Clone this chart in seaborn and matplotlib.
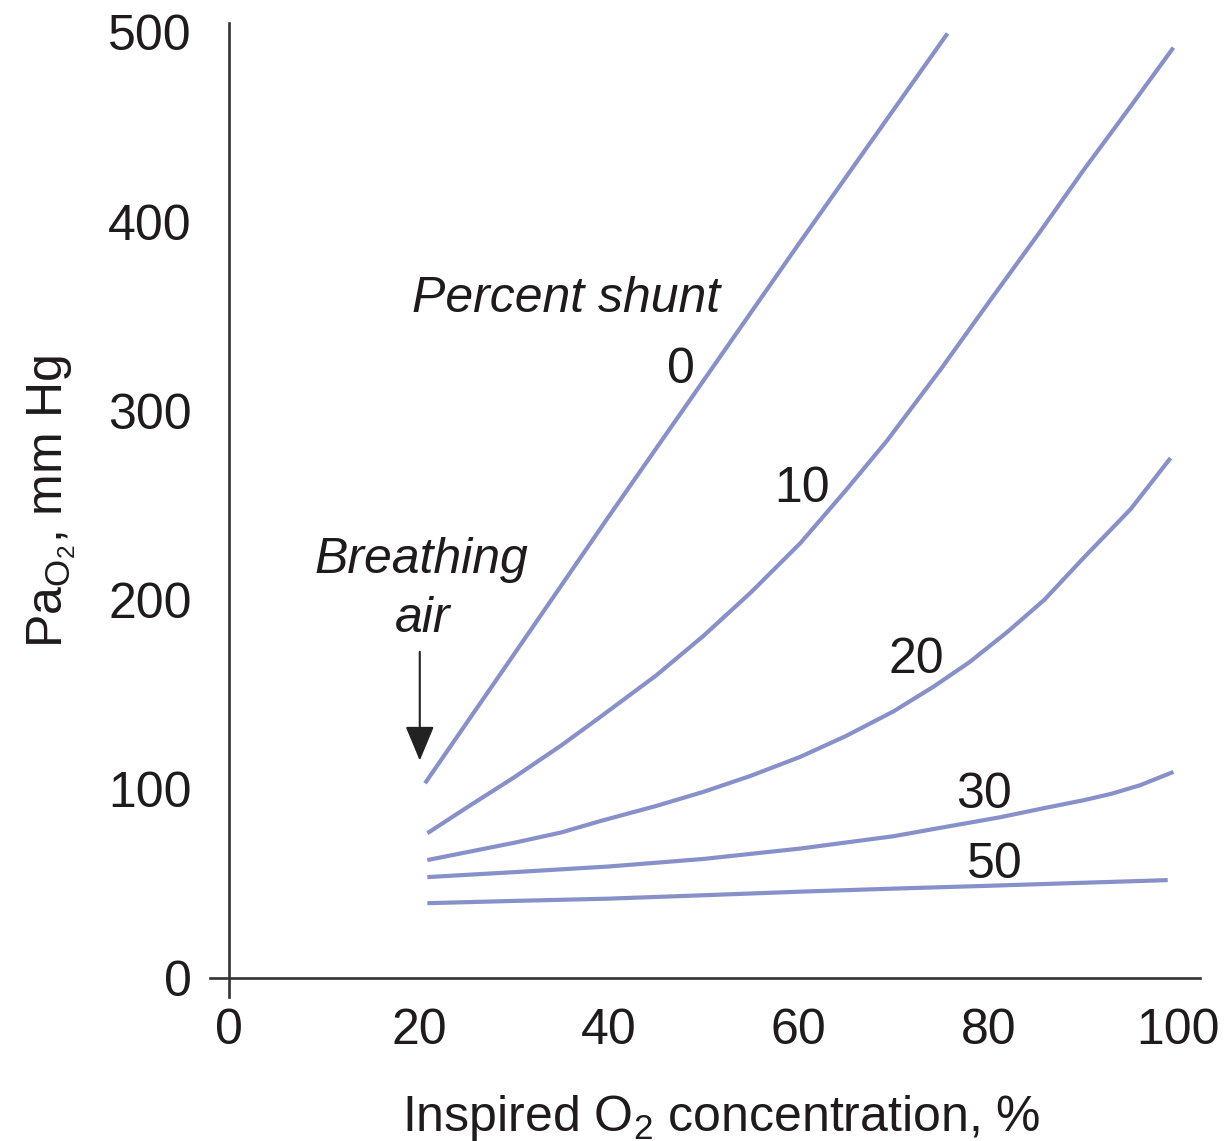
import numpy as np
import pandas as pd
import matplotlib
matplotlib.use("Agg")
import matplotlib.pyplot as plt
import seaborn as sns

# ---- data ----
shunt0_x = [20.65, 30, 40, 50, 60, 70, 75.7]
shunt0_y = [103, 171, 244, 316, 388, 459, 499.5]

shunt10_x = [20.9, 25, 30, 35, 39.1, 45, 50, 55, 60.2, 65, 69.3, 75, 80, 85.5, 90, 95, 99.5]
shunt10_y = [76.6, 90, 106, 123, 138, 160, 181, 204, 230, 258, 284, 322, 357, 395, 427, 461, 492]

shunt20_x = [20.9, 25, 30, 35, 39.1, 45, 50, 55, 60.2, 65, 70, 74.2, 78, 82, 85.9, 90, 95, 99.2]
shunt20_y = [62.4, 66.5, 71.5, 77, 83, 91, 98.5, 107, 117, 128, 141, 154, 167, 183, 200, 222, 248, 275]

shunt30_x = [20.9, 30, 40, 50, 60.2, 70, 75, 81.2, 86, 90, 93, 96, 99.5]
shunt30_y = [53.4, 56, 59, 63, 68.5, 75, 79.5, 85, 90, 94, 97.5, 102, 109]

shunt50_x = [20.9, 30, 40, 50, 60.2, 70, 80, 90, 98.9]
shunt50_y = [39.6, 40.8, 42, 43.8, 45.7, 47.3, 48.8, 50.4, 51.8]

shunt_labels = ["0", "10", "20", "30", "50"]
label_x = [47.6, 60.4, 72.4, 79.5, 80.7]
label_y = [314.5, 251.6, 161.2, 89.9, 52.9]

x_ticks = [0, 20, 40, 60, 80, 100]
y_ticks = [0, 100, 200, 300, 400, 500]

# ---- build long-form table ----
frames = []
for name, xs, ys in zip(shunt_labels,
                        [shunt0_x, shunt10_x, shunt20_x, shunt30_x, shunt50_x],
                        [shunt0_y, shunt10_y, shunt20_y, shunt30_y, shunt50_y]):
    frames.append(pd.DataFrame({"fio2": xs, "pao2": ys, "shunt": name}))
df = pd.concat(frames, ignore_index=True)

sns.set_style("white")
plt.rcParams["font.family"] = ["Liberation Sans", "DejaVu Sans"]
plt.rcParams["mathtext.fontset"] = "custom"
plt.rcParams["mathtext.rm"] = "Liberation Sans"
plt.rcParams["mathtext.it"] = "Liberation Sans:italic"
plt.rcParams["mathtext.default"] = "regular"

TXT = "#1f1b1c"
LINE = "#8790c8"
FS = 36

fig = plt.figure(figsize=(12.25, 11.41), dpi=100)
ax = fig.add_axes([210 / 1225, (1141 - 997) / 1141, 990 / 1225, 974 / 1141])

sns.lineplot(data=df, x="fio2", y="pao2", hue="shunt",
             palette={k: LINE for k in shunt_labels},
             estimator=None, sort=True, legend=False, linewidth=3.0, ax=ax)
for ln in ax.lines:
    ln.set_solid_joinstyle("round")
    ln.set_solid_capstyle("butt")

ax.set_xlim(-2.0, 102.3)
ax.set_ylim(-10, 505)

for side in ["top", "right"]:
    ax.spines[side].set_visible(False)
ax.spines["left"].set_position(("data", 0))
ax.spines["bottom"].set_position(("data", 0))
for side in ["left", "bottom"]:
    ax.spines[side].set_color("#333333")
    ax.spines[side].set_linewidth(1.9)

ax.set_xticks(x_ticks)
ax.set_yticks(y_ticks)
ax.tick_params(axis="both", direction="out", length=13.7, width=1.9,
               color="#333333", labelsize=FS, labelcolor=TXT)
ax.tick_params(axis="x", pad=8)
ax.tick_params(axis="y", pad=13)

ax.set_xlabel("Inspired O$_2$ concentration, %", fontsize=FS, color=TXT)
ax.xaxis.label.set_va("baseline")
ax.xaxis.set_label_coords(0.516, -0.1376)

ax.set_ylabel("Pa$_{O_2}$, mm Hg", fontsize=FS, color=TXT)
ax.yaxis.label.set_va("baseline")
ax.yaxis.set_label_coords(-0.1495, 0.5087)

for t, x, y in zip(shunt_labels, label_x, label_y):
    ax.text(x, y, t, fontsize=FS, color=TXT, ha="center", va="baseline")

ax.text(35.5, 352, "Percent shunt", fontsize=FS, style="italic",
        color=TXT, ha="center", va="baseline")
ax.text(20.3, 214, "Breathing", fontsize=FS, style="italic",
        color=TXT, ha="center", va="baseline")
ax.text(20.4, 183, "air", fontsize=FS, style="italic",
        color=TXT, ha="center", va="baseline")

ax.annotate("", xy=(20.1, 115), xytext=(20.1, 172.5),
            arrowprops=dict(arrowstyle="-|>,head_length=0.6,head_width=0.25",
                            mutation_scale=36, color="#222222", lw=1.5,
                            shrinkA=0, shrinkB=0))

fig.savefig("out.png", dpi=100, facecolor="white")
